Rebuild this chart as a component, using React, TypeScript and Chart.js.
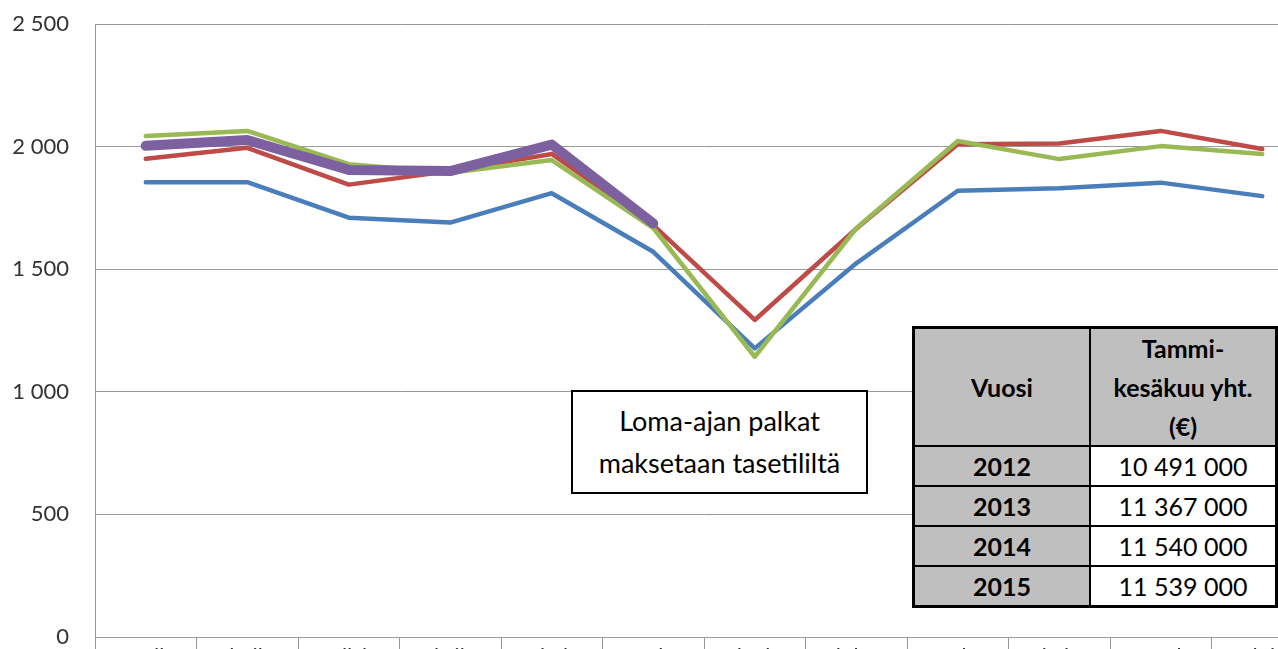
import React, { useEffect, useRef } from 'react';
import { Chart, registerables } from 'chart.js';

Chart.register(...registerables);

const months = ['Tammikuu', 'Helmikuu', 'Maaliskuu', 'Huhtikuu', 'Toukokuu', 'Kesäkuu', 'Heinäkuu', 'Elokuu', 'Syyskuu', 'Lokakuu', 'Marraskuu', 'Joulukuu'];
const values2012 = [1855, 1855, 1710, 1690, 1810, 1571, 1177, 1524, 1820, 1830, 1853, 1798];
const values2013 = [1950, 1995, 1845, 1900, 1970, 1680, 1293, 1665, 2010, 2013, 2064, 1990];
const values2014 = [2043, 2064, 1928, 1893, 1945, 1668, 1143, 1667, 2023, 1949, 2002, 1970];
const values2015 = [2003, 2027, 1905, 1900, 2008, 1687];

const tableYears = ['2012', '2013', '2014', '2015'];
const tableTotals = ['10 491 000', '11 367 000', '11 540 000', '11 539 000'];
const noteLines = ['Loma-ajan palkat', 'maksetaan tasetililtä'];

const FONT = 'Lato, "Open Sans", sans-serif';
const GRID = '#9a9a9a';

const fmt = (v: number | string) => String(v).replace(/\B(?=(\d{3})+(?!\d))/g, ' ');

export default function App() {
  const ref = useRef<HTMLCanvasElement | null>(null);

  useEffect(() => {
    if (!ref.current) return;
    const mk = (label: string, data: number[], color: string, width: number, order: number) => ({
      label,
      data,
      borderColor: color,
      backgroundColor: color,
      borderWidth: width,
      borderCapStyle: 'round' as const,
      borderJoinStyle: 'round' as const,
      pointRadius: 0,
      tension: 0,
      fill: false,
      order,
    });
    const chart = new Chart(ref.current, {
      type: 'line',
      data: {
        labels: months,
        datasets: [
          mk('2012', values2012, '#4a7ebb', 4.5, 4),
          mk('2013', values2013, '#be4b48', 4.5, 3),
          mk('2014', values2014, '#98b954', 4.5, 2),
          mk('2015', values2015, '#7d60a0', 10, 1),
        ],
      },
      options: {
        responsive: false,
        animation: false,
        devicePixelRatio: 1,
        layout: { padding: { top: 24, right: 17, bottom: 0, left: 0 } },
        plugins: { legend: { display: false }, tooltip: { enabled: false }, title: { display: false } },
        scales: {
          x: {
            type: 'category',
            offset: true,
            grid: { offset: true, drawOnChartArea: false, drawTicks: true, tickLength: 14, color: GRID, lineWidth: 1 },
            border: { display: true, color: GRID, width: 1 },
            ticks: {
              autoSkip: false,
              maxRotation: 0,
              minRotation: 0,
              padding: -7,
              color: '#333',
              font: { family: FONT, size: 22 },
            },
            afterFit: (s: any) => { s.height = 63; },
          },
          y: {
            min: 0,
            max: 2500,
            ticks: {
              stepSize: 500,
              padding: 0,
              color: '#333',
              font: { family: FONT, size: 22 },
              callback: (v: any) => fmt(v),
            },
            grid: { color: GRID, lineWidth: 1, drawTicks: true, tickLength: 26, tickColor: 'rgba(0,0,0,0)' },
            border: { display: true, color: GRID, width: 1 },
            afterFit: (s: any) => { s.width = 95; },
          },
        },
      },
    });
    return () => chart.destroy();
  }, []);

  const cellBase: React.CSSProperties = {
    display: 'flex',
    alignItems: 'center',
    justifyContent: 'center',
    textAlign: 'center',
    color: '#000',
    fontFamily: FONT,
    fontSize: 25,
  };

  return (
    <div style={{ position: 'absolute', left: 0, top: 0, width: 1278, height: 649, overflow: 'hidden', background: '#fff' }}>
      <canvas ref={ref} width={1330} height={700} style={{ position: 'absolute', left: 0, top: 0, width: 1330, height: 700 }} />
      <div
        style={{
          position: 'absolute',
          left: 571,
          top: 390,
          width: 297,
          height: 104,
          boxSizing: 'border-box',
          border: '2px solid #000',
          background: '#fff',
          display: 'flex',
          flexDirection: 'column',
          alignItems: 'center',
          justifyContent: 'center',
          fontFamily: FONT,
          fontSize: 27,
          lineHeight: '42px',
          color: '#000',
        }}
      >
        {noteLines.map((l) => (
          <div key={l}>{l}</div>
        ))}
      </div>
      <div
        style={{
          position: 'absolute',
          left: 912,
          top: 326,
          display: 'grid',
          gridTemplateColumns: '174px 184px',
          gridTemplateRows: '116px 38px 38px 38px 38px',
          gap: 2,
          padding: 3,
          background: '#000',
        }}
      >
        <div style={{ ...cellBase, background: '#bfbfbf', fontWeight: 700 }}>Vuosi</div>
        <div style={{ ...cellBase, background: '#bfbfbf', fontWeight: 700, lineHeight: '39px', flexDirection: 'column' }}>
          <div>Tammi-</div>
          <div>kesäkuu yht.</div>
          <div>(€)</div>
        </div>
        {tableYears.map((y, i) => (
          <React.Fragment key={y}>
            <div style={{ ...cellBase, background: '#bfbfbf', fontWeight: 700 }}>{y}</div>
            <div style={{ ...cellBase, background: '#fff' }}>{tableTotals[i]}</div>
          </React.Fragment>
        ))}
      </div>
    </div>
  );
}
